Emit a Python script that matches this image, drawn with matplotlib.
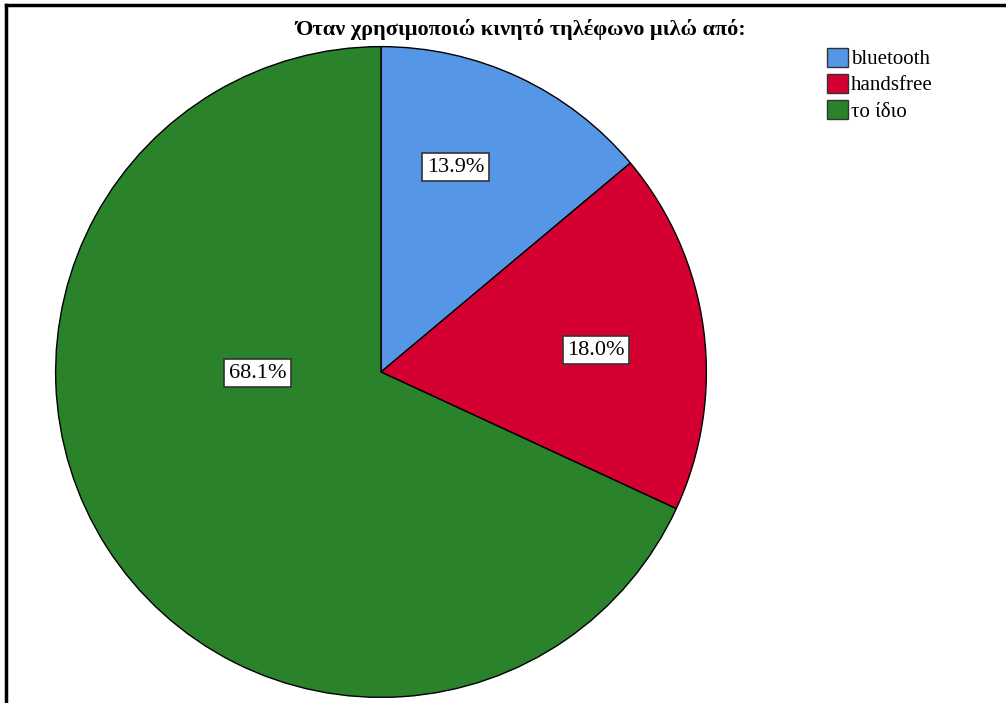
import numpy as np
import matplotlib.pyplot as plt

# answers to "when using a mobile phone I talk via:"
labels = ["bluetooth", "handsfree", "το ίδιο"]
shares = [13.9, 18.0, 68.1]
colors = ["#5596e6", "#d50032", "#2a822a"]
title = "Όταν χρησιμοποιώ κινητό τηλέφωνο μιλώ από:"

# where each percentage box sits (radius as fraction of pie, angle in degrees)
label_r = [0.67, 0.664, 0.379]
label_ang = [70.0, 5.8, 180.5]

W, H = 1006, 703
fig = plt.figure(figsize=(W / 100, H / 100), dpi=100)
plt.rcParams["font.family"] = ["Liberation Serif", "DejaVu Serif"]

# pie centre at (381, 372) px, radius 327 px
cx, cy, rad = 381, 372, 327
ax = fig.add_axes([(cx - rad) / W, (H - cy - rad) / H, 2 * rad / W, 2 * rad / H])
ax.axis("off")

wedges, _ = ax.pie(shares, colors=colors, startangle=90, counterclock=False,
                   radius=1, center=(0, 0), frame=False,
                   wedgeprops=dict(edgecolor="black", linewidth=1.0))
ax.set_xlim(-1.005, 1.005)
ax.set_ylim(-1.005, 1.005)

for v, r, a in zip(shares, label_r, label_ang):
    t = np.deg2rad(a)
    ax.text(r * np.cos(t), r * np.sin(t), f"{v:.1f}%", ha="center", va="center",
            fontsize=16, color="black",
            bbox=dict(boxstyle="square,pad=0.2", facecolor="white",
                      edgecolor="#333333", linewidth=1.2))

fig.text(521 / W, 1 - 29 / H, title, ha="center", va="center",
         fontsize=16, fontweight="bold")

leg = fig.legend(wedges, labels, loc="upper left", bbox_to_anchor=(827 / W, 1 - 48 / H),
                 frameon=False, fontsize=15, handlelength=1.0, handleheight=1.0,
                 handletextpad=0.15, labelspacing=0.22, borderpad=0, borderaxespad=0)
for h in leg.legend_handles:
    h.set_edgecolor("#333333")

# frame lines along the top and left
fig.add_artist(plt.Line2D([6 / W, 1], [1 - 5 / H, 1 - 5 / H], color="black", linewidth=2.5))
fig.add_artist(plt.Line2D([6 / W, 6 / W], [0, 1 - 5 / H], color="black", linewidth=2.5))

fig.savefig("out.png", dpi=100)
